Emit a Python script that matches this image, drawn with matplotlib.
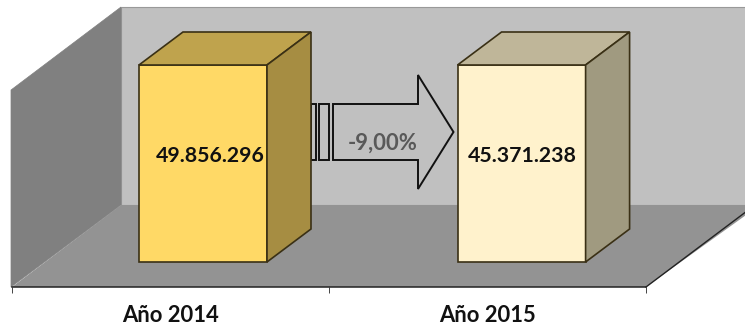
import matplotlib
matplotlib.use("Agg")
import matplotlib.pyplot as plt
from matplotlib.patches import Polygon
from matplotlib.transforms import Affine2D

categories = ["Año 2014", "Año 2015"]
bar_heights = [100, 100]
bar_labels = ["49.856.296", "45.371.238"]
change_label = "-9,00%"
front_colors = ["#FFD966", "#FFF2CC"]
top_colors = ["#BFA34D", "#BFB699"]
side_colors = ["#A68D42", "#A09A80"]

W, H = 745, 327
FONT = "Lato"
fig = plt.figure(figsize=(W / 100, H / 100), dpi=100, facecolor="white")

# Scenery axes in image pixels
bg = fig.add_axes([0, 0, 1, 1])
bg.set_xlim(0, W)
bg.set_ylim(H, 0)
bg.axis("off")

bg.add_patch(Polygon([(121, 7), (760, 7), (760, 205), (121, 205)], fc="#C0C0C0", ec="#999999", lw=0.8, zorder=1))
bg.add_patch(Polygon([(11, 90), (121, 7), (121, 205), (11, 287)], fc="#808080", ec="#808080", lw=0.5, zorder=2))
bg.add_patch(Polygon([(12, 287), (121, 205), (760, 205), (646, 287)], fc="#939393", ec="none", zorder=2))
bg.plot([646, 755], [287, 205], color="#222222", lw=1.0, zorder=3)

# Chart axes: plot area on the front plane
ax = fig.add_axes([12 / W, (H - 287) / H, (646 - 12) / W, 197 / H], zorder=2)
ax.patch.set_alpha(0)
ax.set_xlim(-0.499, 1.491)
ax.set_ylim(0, 100)
for s in ("top", "left", "right"):
    ax.spines[s].set_visible(False)
ax.spines["bottom"].set_color("#222222")
ax.spines["bottom"].set_linewidth(1.1)
ax.set_yticks([])
ax.set_xticks([-0.499, 0.496, 1.491])
ax.set_xticklabels([])
ax.tick_params(axis="x", length=4.2, width=0.7, color="#444444")
cat_nudge = [0, -1.8]           # points
for i, c in enumerate(categories):
    ax.annotate(c, (i, 0), xytext=(cat_nudge[i], -20.8), textcoords="offset points", ha="center", va="center",
                fontsize=15.8, fontweight="bold", family=FONT, color="#111111")

bar_w = 128 / 318.5
dx_front, dy_front = 32, 25     # shift from the front plane, pixels
dx_d, dy_d = 44, 33             # depth of the bars, pixels
label_nudge = [7, 1]            # label offset from bar centre, pixels
shift = Affine2D().translate(dx_front, dy_front)
edge = "#3a3015"
for i, h in enumerate(bar_heights):
    ax.bar(i, h, width=bar_w, color=front_colors[i], edgecolor=edge, linewidth=1.2,
           transform=ax.transData + shift, clip_on=False, zorder=4)
    (x0, y0), (x1, y1) = ax.transData.transform([(i - bar_w / 2, 0), (i + bar_w / 2, h)])
    x0 += dx_front; x1 += dx_front; y0 += dy_front; y1 += dy_front
    top = [(x0, y1), (x1, y1), (x1 + dx_d, y1 + dy_d), (x0 + dx_d, y1 + dy_d)]
    side = [(x1, y0), (x1, y1), (x1 + dx_d, y1 + dy_d), (x1 + dx_d, y0 + dy_d)]
    fig.add_artist(Polygon(top, fc=top_colors[i], ec=edge, lw=1.2, transform=None, zorder=3))
    fig.add_artist(Polygon(side, fc=side_colors[i], ec=edge, lw=1.2, transform=None, zorder=3))
    fig.text(((x0 + x1) / 2 + label_nudge[i]) / W, (H - 156) / H, bar_labels[i], ha="center", va="center",
             fontsize=15.3, fontweight="bold", family=FONT, color="#111111", zorder=6)

# Arrow between the bars (scenery pixels on its own overlay)
ov = fig.add_axes([0, 0, 1, 1], zorder=1)
ov.set_xlim(0, W); ov.set_ylim(H, 0); ov.axis("off")
fill = "#C0C0C0"
for a, b in [(311, 316), (319, 329)]:
    ov.add_patch(Polygon([(a, 104), (b, 104), (b, 160), (a, 160)], fc=fill, ec="#111111", lw=1.4))
ov.add_patch(Polygon([(333, 160), (333, 104), (418, 104), (418, 75), (453.5, 132), (418, 189), (418, 160)],
                     fc=fill, ec="#111111", lw=1.4))
ov.text(382.5, 143, change_label, ha="center", va="center", fontsize=15.8, fontweight="bold",
        family=FONT, color="#595959")

fig.savefig("out.png", dpi=100)
